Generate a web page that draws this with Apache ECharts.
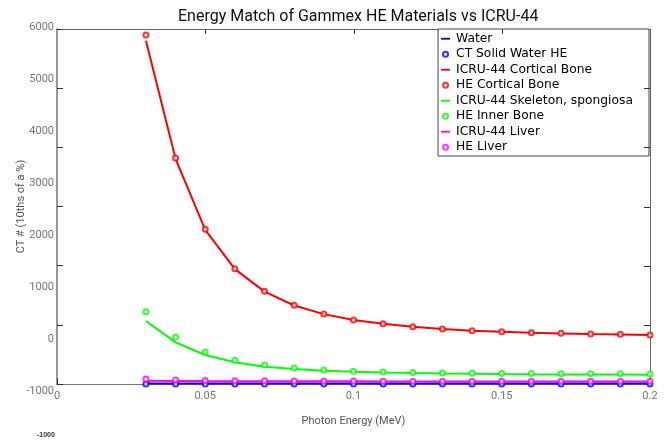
<!DOCTYPE html>
<html>
<head>
<meta charset="utf-8">
<script src="https://cdn.jsdelivr.net/npm/echarts@6/dist/echarts.min.js"></script>
<style>html,body{margin:0;padding:0;background:#fff;}#c{width:668px;height:447px;}</style>
</head>
<body>
<div id="c"></div>
<script>
var energies = [0.03,0.04,0.05,0.06,0.07,0.08,0.09,0.10,0.11,0.12,0.13,0.14,0.15,0.16,0.17,0.18,0.19,0.20];
var waterICRU = [-992,-992,-992,-992,-992,-992,-992,-992,-992,-992,-992,-992,-992,-992,-992,-992,-992,-992];
var waterHE = [-1000,-1000,-1000,-1000,-1000,-1000,-1000,-1000,-1000,-1000,-1000,-1000,-1000,-1000,-1000,-1000,-1000,-1000];
var cortBoneICRU = [5770,3440,2040,1265,822,548,378,260,187,128,83,50,30,10,-3,-16,-24,-36];
var cortBoneHE = [5880,3456,2050,1273,827,551,380,262,189,130,84,51,31,11,-1,-15,-21,-34];
var skeletonICRU = [242,-178,-429,-573,-659,-705,-738,-760,-775,-785,-793,-799,-804,-808,-811,-813,-815,-817];
var innerBoneHE = [425,-74,-370,-533,-626,-685,-724,-750,-764,-772,-784,-788,-792,-795,-797,-799,-800,-802];
var liverICRU = [-935,-940,-943,-945,-946,-947,-948,-948,-949,-949,-950,-950,-950,-950,-950,-950,-950,-950];
var liverHE = [-902,-920,-930,-935,-938,-940,-942,-943,-944,-945,-945,-946,-946,-947,-947,-947,-948,-948];
var yTickLabels = [-1000,0,1000,2000,3000,4000,5000,6000];
var xTickLabels = [0,0.05,0.1,0.15,0.2];
var topTickValues = [0.05,0.1,0.15];
var rightTickSteps = [1,2,3,4,5];

function pairs(vals){ return energies.map(function(e,i){ return [e, vals[i]]; }); }
function lineS(name, vals, color){
  return {name:name, type:'line', data:pairs(vals), showSymbol:false, symbol:'none',
    lineStyle:{color:color, width:2}, itemStyle:{color:color}, clip:false, z:2};
}
function dotS(name, vals, color){
  return {name:name, type:'scatter', data:pairs(vals), symbol:'emptyCircle', symbolSize:5,
    itemStyle:{color:color, borderColor:color, borderWidth:1.6}, clip:false, z:3};
}
var linePath = 'path://M0,0L10,0L10,2L0,2Z';
function tick(inside){ return {show:true, inside:inside, length:6, lineStyle:{color:'#333', width:1}}; }

var GL = 57, GR = 18, GT = 29, GB = 63, W = 668, H = 447;
var PW = W - GL - GR, PH = H - GT - GB;

var graphics = [{type:'text', left:37, top:432, style:{text:'-1000', font:'bold 7px sans-serif', fill:'#333'}}];
topTickValues.forEach(function(v){
  var x = Math.round(GL + v / 0.2 * PW) + 0.5;
  graphics.push({type:'line', z:100, silent:true,
    shape:{x1:x, y1:GT, x2:x, y2:GT + 5}, style:{stroke:'#333', lineWidth:1}});
});
rightTickSteps.forEach(function(k){
  var y = Math.round(GT + PH - k / 6 * PH) + 0.5;
  graphics.push({type:'line', z:100, silent:true,
    shape:{x1:GL + PW - 6, y1:y, x2:GL + PW, y2:y}, style:{stroke:'#333', lineWidth:1}});
});

var chart = echarts.init(document.getElementById('c'), null, {renderer:'canvas'});
chart.setOption({
  animation:false,
  backgroundColor:'#fff',
  title:{text:'Energy Match of Gammex HE Materials vs ICRU-44', left:173, top:4,
    textStyle:{fontFamily:'Roboto', fontSize:16, fontWeight:'normal', color:'#111'}},
  grid:[
    {left:GL, right:GR, top:GT, bottom:GB},
    {left:GL, right:GR, top:27, bottom:56}
  ],
  xAxis:[
    {gridIndex:0, type:'value', min:0, max:0.2, interval:0.05, position:'bottom',
      axisLine:{onZero:false, lineStyle:{color:'#777', width:1}},
      axisTick:tick(true),
      axisLabel:{color:'#777', fontFamily:'Roboto', fontSize:11, margin:7,
        formatter:function(v){ var r = Math.round(v*100)/100; return xTickLabels.indexOf(r) >= 0 ? String(r) : ''; }},
      splitLine:{show:false},
      name:'Photon Energy (MeV)', nameLocation:'middle', nameGap:32,
      nameTextStyle:{color:'#555', fontFamily:'Roboto', fontSize:11}},
    {gridIndex:1, type:'value', min:0, max:1, show:false},
    {gridIndex:0, type:'value', min:0, max:0.2, interval:0.05, position:'top',
      axisLine:{show:true, onZero:false, lineStyle:{color:'#666', width:1}},
      axisTick:{show:false},
      axisLabel:{show:false}, splitLine:{show:false}}
  ],
  yAxis:[
    {gridIndex:0, type:'value', min:-1000, max:6000, interval:7000/6, position:'left',
      axisLine:{onZero:false, lineStyle:{color:'#999', width:2}},
      axisTick:tick(true),
      axisLabel:{show:false}, splitLine:{show:false},
      name:'CT # (10ths of a %)', nameLocation:'middle', nameGap:30,
      nameTextStyle:{color:'#555', fontFamily:'Roboto', fontSize:11}},
    {gridIndex:1, type:'value', min:yTickLabels[0], max:yTickLabels[yTickLabels.length-1], interval:1000, position:'left',
      axisLine:{show:false, onZero:false}, axisTick:{show:false}, splitLine:{show:false},
      axisLabel:{color:'#777', fontFamily:'Roboto', fontSize:11, margin:3,
        formatter:function(v){ return String(v); }}},
    {gridIndex:0, type:'value', min:-1000, max:6000, interval:7000/6, position:'right',
      axisLine:{show:true, onZero:false, lineStyle:{color:'#666', width:1}},
      axisTick:{show:false},
      axisLabel:{show:false}, splitLine:{show:false}}
  ],
  legend:{orient:'vertical', right:19, top:29, backgroundColor:'#fff', borderColor:'#444', borderWidth:1,
    padding:[2,16,1,3], itemGap:0, itemWidth:9, itemHeight:5, itemStyle:{borderWidth:1.5},
    textStyle:{fontFamily:'DejaVu Sans', fontSize:12.3, color:'#000', lineHeight:15.5, padding:[0,0,0,1]},
    data:[
      {name:'Water', icon:linePath},
      {name:'CT Solid Water HE', icon:'emptyCircle'},
      {name:'ICRU-44 Cortical Bone', icon:linePath},
      {name:'HE Cortical Bone', icon:'emptyCircle'},
      {name:'ICRU-44 Skeleton, spongiosa', icon:linePath},
      {name:'HE Inner Bone', icon:'emptyCircle'},
      {name:'ICRU-44 Liver', icon:linePath},
      {name:'HE Liver', icon:'emptyCircle'}
    ]},
  graphic:graphics,
  series:[
    lineS('Water', waterICRU, '#0000ff'),
    dotS('CT Solid Water HE', waterHE, '#0000ff'),
    lineS('ICRU-44 Cortical Bone', cortBoneICRU, '#ff0000'),
    dotS('HE Cortical Bone', cortBoneHE, '#ff0000'),
    lineS('ICRU-44 Skeleton, spongiosa', skeletonICRU, '#00ff00'),
    dotS('HE Inner Bone', innerBoneHE, '#00ff00'),
    lineS('ICRU-44 Liver', liverICRU, '#ff00ff'),
    dotS('HE Liver', liverHE, '#ff00ff')
  ]
});
</script>
</body>
</html>
